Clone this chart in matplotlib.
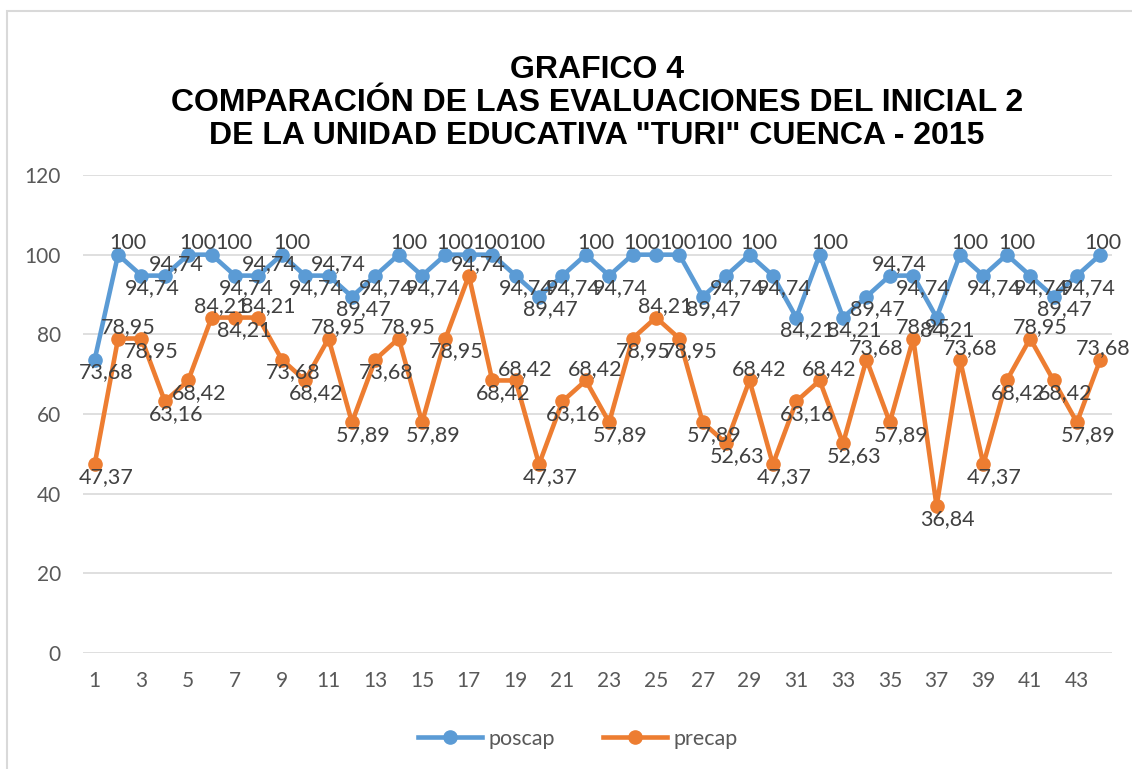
import matplotlib.pyplot as plt
from matplotlib.patches import Rectangle

plt.rcParams['font.family'] = ['Lato', 'DejaVu Sans']

# 44 children, two evaluations
alumnos = list(range(1, 45))
poscap = [73.68, 100, 94.74, 94.74, 100, 100, 94.74, 94.74, 100, 94.74,
          94.74, 89.47, 94.74, 100, 94.74, 100, 100, 100, 94.74, 89.47,
          94.74, 100, 94.74, 100, 100, 100, 89.47, 94.74, 100, 94.74,
          84.21, 100, 84.21, 89.47, 94.74, 94.74, 84.21, 100, 94.74, 100,
          94.74, 89.47, 94.74, 100]
precap = [47.37, 78.95, 78.95, 63.16, 68.42, 84.21, 84.21, 84.21, 73.68, 68.42,
          78.95, 57.89, 73.68, 78.95, 57.89, 78.95, 94.74, 68.42, 68.42, 47.37,
          63.16, 68.42, 57.89, 78.95, 84.21, 78.95, 57.89, 52.63, 68.42, 47.37,
          63.16, 68.42, 52.63, 73.68, 57.89, 78.95, 36.84, 73.68, 47.37, 68.42,
          78.95, 68.42, 57.89, 73.68]
y_ticks = [0, 20, 40, 60, 80, 100, 120]
x_ticks = list(range(1, 44, 2))

titulo = ('GRAFICO 4\nCOMPARACIÓN DE LAS EVALUACIONES DEL INICIAL 2\n'
          'DE LA UNIDAD EDUCATIVA "TURI" CUENCA - 2015')

azul = '#5B9BD5'
naranja = '#ED7D31'
gris_txt = '#595959'
gris_lbl = '#404040'

fig = plt.figure(figsize=(11.32, 7.69), dpi=100)
ax = fig.add_axes([83 / 1132, 1 - 653 / 769, (1112 - 83) / 1132, (653 - 175) / 769])

ax.plot(alumnos, poscap, color=azul, lw=3.3, marker='o', markersize=9.5,
        label='poscap', zorder=3, solid_joinstyle='round')
ax.plot(alumnos, precap, color=naranja, lw=3.3, marker='o', markersize=9.5,
        label='precap', zorder=3, solid_joinstyle='round')


def fmt(v):
    s = f'{v:.2f}'.rstrip('0').rstrip('.')
    return s.replace('.', ',')


def etiquetas(vals):
    n = len(vals)
    last_side = None
    last_dx = 0
    for i, v in enumerate(vals):
        prev_v = vals[i - 1] if i > 0 else None
        next_v = vals[i + 1] if i < n - 1 else None
        vec = [x for x in (prev_v, next_v) if x is not None]
        side = 'up' if v >= max(vec) else 'down'
        dx = 7 if side == 'up' else 8
        txt = fmt(v)
        # consecutive equal values: keep labels apart
        if prev_v == v and side == last_side:
            if len(txt) > 3:
                side = 'down' if side == 'up' else 'up'
            else:
                dx = last_dx + 9
        if i == n - 1:
            dx = 2
        if side == 'up':
            dy, va = 1, 'bottom'
        else:
            dy, va = -2, 'top'
        ax.annotate(txt, (alumnos[i], v), xytext=(dx, dy),
                    textcoords='offset points', ha='center', va=va,
                    fontsize=15.5, color=gris_lbl, zorder=4)
        last_side, last_dx = side, dx


etiquetas(poscap)
etiquetas(precap)

ax.set_xlim(0.5, 44.5)
ax.set_ylim(0, 120)
ax.set_yticks(y_ticks)
ax.set_xticks(x_ticks)
ax.tick_params(axis='both', length=0, labelsize=15, labelcolor=gris_txt)
ax.tick_params(axis='y', pad=16)
ax.tick_params(axis='x', pad=13)
ax.grid(axis='y', color='#D9D9D9', lw=1.2)
ax.set_axisbelow(True)
for s in ax.spines.values():
    s.set_visible(False)

fig.text(597 / 1132, 1 - 55 / 769, titulo, ha='center', va='top',
         fontsize=23, fontweight='bold', family='Liberation Sans',
         linespacing=1.12)

fig.legend(loc='center', bbox_to_anchor=(578 / 1132, 1 - 739 / 769), ncol=2,
           frameon=False, fontsize=15.5, labelcolor=gris_txt,
           handlelength=3.0, columnspacing=2.2, handletextpad=0.3)

fig.patches.append(Rectangle((7 / 1132, -0.05), 1.2, 1 - 11 / 769 + 0.05,
                             transform=fig.transFigure, fill=False,
                             edgecolor='#D9D9D9', lw=1.5))

fig.savefig('out.png', dpi=100)
